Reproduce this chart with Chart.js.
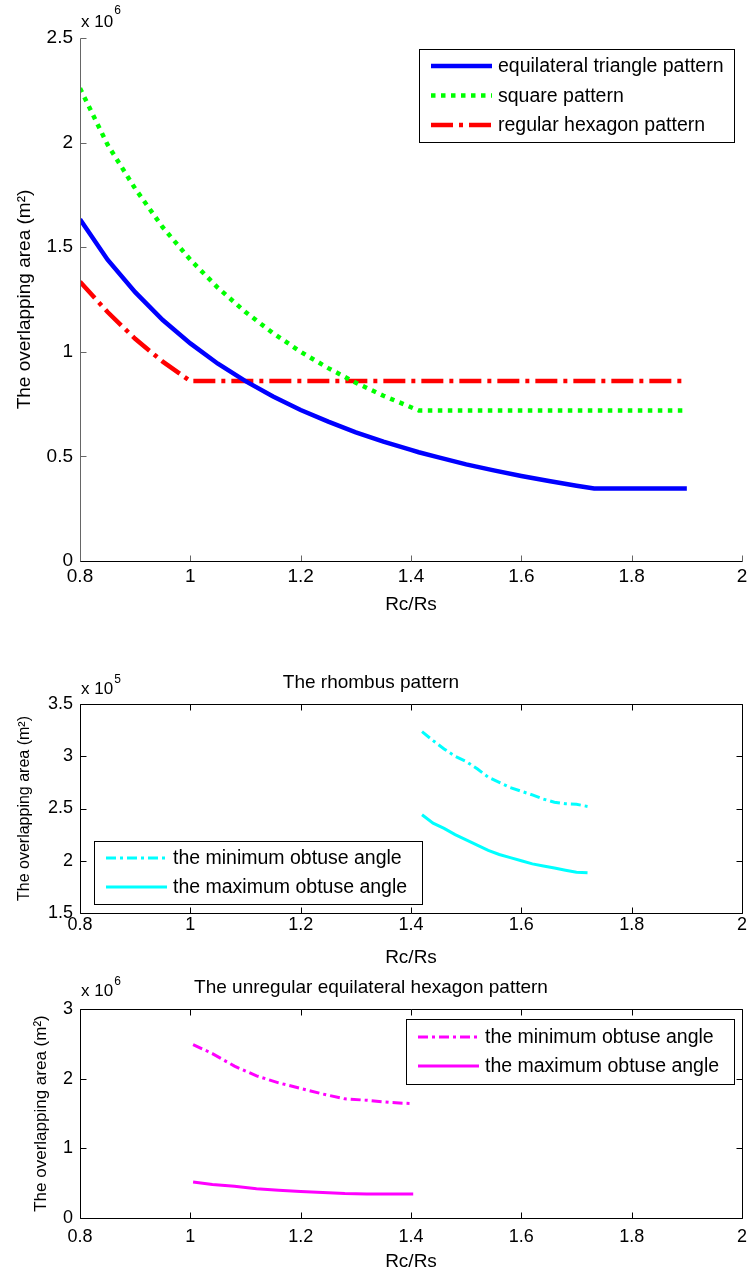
<!DOCTYPE html>
<html>
<head>
<meta charset="utf-8">
<script src="https://cdn.jsdelivr.net/npm/chart.js@4.4.1/dist/chart.umd.min.js"></script>
<style>
  html, body { margin: 0; padding: 0; background: #fff; }
  body { width: 750px; height: 1274px; position: relative; overflow: hidden; }
  canvas { position: absolute; left: 0; }
</style>
</head>
<body>
<canvas id="topChart" width="750" height="630" style="top:0"></canvas>
<canvas id="rhombusChart" width="750" height="340" style="top:630px"></canvas>
<canvas id="hexChart" width="750" height="304" style="top:970px"></canvas>
<script>
// top plot, areas in units of 10^6 m^2
const topX = [0.8, 0.85, 0.9, 0.95, 1.0, 1.05, 1.1, 1.15, 1.2, 1.25, 1.3, 1.35, 1.4, 1.414,
              1.45, 1.5, 1.55, 1.6, 1.65, 1.7, 1.732, 1.75, 1.8, 1.85, 1.9];
const triangleArea = [1.633, 1.44, 1.285, 1.152, 1.04, 0.943, 0.86, 0.786, 0.722, 0.666, 0.615, 0.571, 0.531, 0.52,
                      0.495, 0.462, 0.433, 0.406, 0.382, 0.36, 0.347, 0.347, 0.347, 0.347, 0.347];
const squareArea = [2.26, 1.99, 1.78, 1.595, 1.44, 1.306, 1.19, 1.089, 1.0, 0.922, 0.852, 0.79, 0.735, 0.72,
                    0.72, 0.72, 0.72, 0.72, 0.72, 0.72, 0.72, 0.72, 0.72, 0.72, 0.72];
const hexagonArea = [1.335, 1.19, 1.062, 0.953, 0.86, 0.86, 0.86, 0.86, 0.86, 0.86, 0.86, 0.86, 0.86, 0.86,
                     0.86, 0.86, 0.86, 0.86, 0.86, 0.86, 0.86, 0.86, 0.86, 0.86, 0.86];
const topYTicks = [0, 2.5, 0.5];

// rhombus pattern, units of 10^5 m^2
const rhombusX = [1.42, 1.44, 1.46, 1.48, 1.5, 1.52, 1.54, 1.56, 1.58, 1.6, 1.62, 1.64, 1.66, 1.68, 1.7, 1.72];
const rhombusMinAngle = [3.235, 3.15, 3.07, 3.0, 2.95, 2.88, 2.8, 2.75, 2.7, 2.665, 2.63, 2.59, 2.56, 2.545, 2.54, 2.52];
const rhombusMaxAngle = [2.44, 2.36, 2.31, 2.25, 2.2, 2.15, 2.1, 2.06, 2.03, 2.0, 1.97, 1.95, 1.93, 1.91, 1.89, 1.885];
const rhombusYTicks = [1.5, 3.5, 0.5];

// unregular equilateral hexagon, units of 10^6 m^2
const hexX = [1.005, 1.04, 1.08, 1.12, 1.16, 1.2, 1.24, 1.28, 1.32, 1.36, 1.404];
const hexMinAngle = [2.49, 2.36, 2.18, 2.04, 1.94, 1.86, 1.78, 1.71, 1.69, 1.66, 1.64];
const hexMaxAngle = [0.516, 0.48, 0.455, 0.42, 0.4, 0.38, 0.365, 0.35, 0.345, 0.345, 0.345];
const hexYTicks = [0, 3, 1];

const xTicks = [0.8, 2, 0.2];

const FONT = '"Liberation Sans", Arial, sans-serif';
Chart.defaults.font.family = FONT;
Chart.defaults.font.size = 19;
Chart.defaults.color = '#000';

function pts(xs, ys) {
    return xs.map((x, i) => ({x: x, y: ys[i]}));
}

// matlab style axes: inward ticks, optional box, exponent and legend
const matlabAxes = {
    id: 'matlabAxes',
    afterDraw(chart, args, opts) {
        const ctx = chart.ctx;
        const a = chart.chartArea;
        const xs = chart.scales.x, ys = chart.scales.y;
        const L = Math.round(a.left) + 0.5, R = Math.round(a.right) + 0.5;
        const T = Math.round(a.top) + 0.5, B = Math.round(a.bottom) + 0.5;
        ctx.save();
        ctx.lineWidth = 1;
        ctx.setLineDash([]);

        ctx.strokeStyle = opts.tickColor || '#000';
        ctx.beginPath();
        xs.ticks.forEach(t => {
            const p = Math.round(xs.getPixelForValue(t.value)) + 0.5;
            ctx.moveTo(p, B); ctx.lineTo(p, B - 6);
            if (opts.box) { ctx.moveTo(p, T); ctx.lineTo(p, T + 6); }
        });
        ys.ticks.forEach(t => {
            const p = Math.round(ys.getPixelForValue(t.value)) + 0.5;
            ctx.moveTo(L, p); ctx.lineTo(L + 6, p);
            if (opts.box) { ctx.moveTo(R, p); ctx.lineTo(R - 6, p); }
        });
        ctx.stroke();

        ctx.strokeStyle = opts.leftColor || '#000';
        ctx.beginPath();
        ctx.moveTo(L, T); ctx.lineTo(L, B);
        ctx.stroke();
        ctx.strokeStyle = '#000';
        ctx.beginPath();
        ctx.moveTo(L, B); ctx.lineTo(R, B);
        if (opts.box) {
            ctx.lineTo(R, T); ctx.lineTo(L, T);
        }
        ctx.stroke();

        // exponent label
        ctx.fillStyle = '#000';
        ctx.textBaseline = 'middle';
        ctx.textAlign = 'left';
        ctx.font = '17px ' + FONT;
        ctx.fillText('x 10', a.left + 1, a.top + opts.expY);
        const w = ctx.measureText('x 10').width;
        ctx.font = '12px ' + FONT;
        ctx.fillText(opts.exponent, a.left + 2 + w, a.top + opts.supY);

        // legend
        const lg = opts.legend;
        if (lg) {
            ctx.fillStyle = '#fff';
            ctx.fillRect(lg.x, lg.y, lg.w, lg.h);
            ctx.strokeStyle = '#000';
            ctx.lineWidth = 1;
            ctx.strokeRect(lg.x + 0.5, lg.y + 0.5, lg.w, lg.h);
            chart.data.datasets.forEach((ds, i) => {
                const y = lg.y + lg.row0 + i * lg.gap;
                ctx.strokeStyle = ds.borderColor;
                ctx.lineWidth = ds.borderWidth;
                ctx.setLineDash(ds.borderDash || []);
                ctx.beginPath();
                ctx.moveTo(lg.x + 12, y);
                ctx.lineTo(lg.x + 73, y);
                ctx.stroke();
                ctx.setLineDash([]);
                ctx.fillStyle = '#000';
                ctx.font = '19.5px ' + FONT;
                ctx.fillText(ds.label, lg.x + 79, y + 1);
            });
        }
        ctx.restore();
    }
};

function makeOptions(cfg) {
    return {
        responsive: false,
        animation: false,
        devicePixelRatio: 1,
        layout: { padding: { top: cfg.padTop, right: 8, left: 0, bottom: 0 } },
        elements: { point: { radius: 0 }, line: { tension: 0, borderCapStyle: 'butt' } },
        plugins: {
            legend: { display: false },
            tooltip: { enabled: false },
            title: cfg.title ? {
                display: true, text: cfg.title, color: '#000',
                font: { size: 19, weight: 'normal' },
                padding: { top: cfg.titleTop, bottom: cfg.titleBottom }
            } : { display: false },
            matlabAxes: cfg.axes
        },
        scales: {
            x: {
                type: 'linear', min: xTicks[0], max: xTicks[1],
                grid: { display: false, drawTicks: false }, border: { display: false },
                ticks: { stepSize: xTicks[2], padding: cfg.xPad, font: { size: cfg.tickSize },
                         callback: v => String(+v.toFixed(1)) },
                title: { display: true, text: 'Rc/Rs', font: { size: 19 },
                         padding: { top: 0, bottom: cfg.xTitlePad } },
                afterFit: s => {
                    s.height = cfg.xHeight;
                    s.paddingLeft = 0;
                    s.paddingRight = 0;
                }
            },
            y: {
                type: 'linear', min: cfg.yTicks[0], max: cfg.yTicks[1],
                grid: { display: false, drawTicks: false }, border: { display: false },
                ticks: { stepSize: cfg.yTicks[2], padding: 7, font: { size: cfg.tickSize },
                         callback: v => String(+v.toFixed(2)) },
                title: { display: true, text: 'The overlapping area (m²)',
                         font: { size: cfg.yTitleSize }, padding: { top: cfg.yTitlePad, bottom: 0 } },
                afterFit: s => {
                    s.width = 80;
                    s.paddingTop = 0;
                    s.paddingBottom = 0;
                }
            }
        }
    };
}

new Chart(document.getElementById('topChart'), {
    type: 'line',
    data: {
        datasets: [
            { label: 'equilateral triangle pattern', data: pts(topX, triangleArea),
              borderColor: '#0000ff', borderWidth: 4.5 },
            { label: 'square pattern', data: pts(topX, squareArea),
              borderColor: '#00ff00', borderWidth: 4.5, borderDash: [4.5, 5.5] },
            { label: 'regular hexagon pattern', data: pts(topX, hexagonArea),
              borderColor: '#ff0000', borderWidth: 4.5, borderDash: [22, 6, 4, 6] }
        ]
    },
    options: makeOptions({
        padTop: 38, xHeight: 69, xPad: 4.6, xTitlePad: 13.6, yTicks: topYTicks, tickSize: 19,
        yTitleSize: 19, yTitlePad: 13.6,
        axes: { box: false, leftColor: '#666', tickColor: '#666', exponent: '6', expY: -16, supY: -27,
                legend: { x: 419, y: 49, w: 315, h: 93, row0: 17, gap: 29.5 } }
    }),
    plugins: [matlabAxes]
});

new Chart(document.getElementById('rhombusChart'), {
    type: 'line',
    data: {
        datasets: [
            { label: 'the minimum obtuse angle', data: pts(rhombusX, rhombusMinAngle),
              borderColor: '#00ffff', borderWidth: 3, borderDash: [10, 4, 3, 4] },
            { label: 'the maximum obtuse angle', data: pts(rhombusX, rhombusMaxAngle),
              borderColor: '#00ffff', borderWidth: 3 }
        ]
    },
    options: makeOptions({
        padTop: 0, title: 'The rhombus pattern', titleTop: 41.6, titleBottom: 9.6,
        xHeight: 57, xPad: 1.5, xTitlePad: 0.6, yTicks: rhombusYTicks, tickSize: 18,
        yTitleSize: 16, yTitlePad: 15.4,
        axes: { box: true, exponent: '5', expY: -15, supY: -24,
                legend: { x: 94, y: 211, w: 328, h: 63, row0: 17, gap: 29 } }
    }),
    plugins: [matlabAxes]
});

new Chart(document.getElementById('hexChart'), {
    type: 'line',
    data: {
        datasets: [
            { label: 'the minimum obtuse angle', data: pts(hexX, hexMinAngle),
              borderColor: '#ff00ff', borderWidth: 3, borderDash: [10, 4, 3, 4] },
            { label: 'the maximum obtuse angle', data: pts(hexX, hexMaxAngle),
              borderColor: '#ff00ff', borderWidth: 3 }
        ]
    },
    options: makeOptions({
        padTop: 0, title: 'The unregular equilateral hexagon pattern', titleTop: 6.6, titleBottom: 9.6,
        xHeight: 56, xPad: 8.2, xTitlePad: 0.6, yTicks: hexYTicks, tickSize: 18,
        yTitleSize: 17, yTitlePad: 30.8,
        axes: { box: true, exponent: '6', expY: -18, supY: -27,
                legend: { x: 406, y: 49, w: 328, h: 65, row0: 18, gap: 29 } }
    }),
    plugins: [matlabAxes]
});
</script>
</body>
</html>
